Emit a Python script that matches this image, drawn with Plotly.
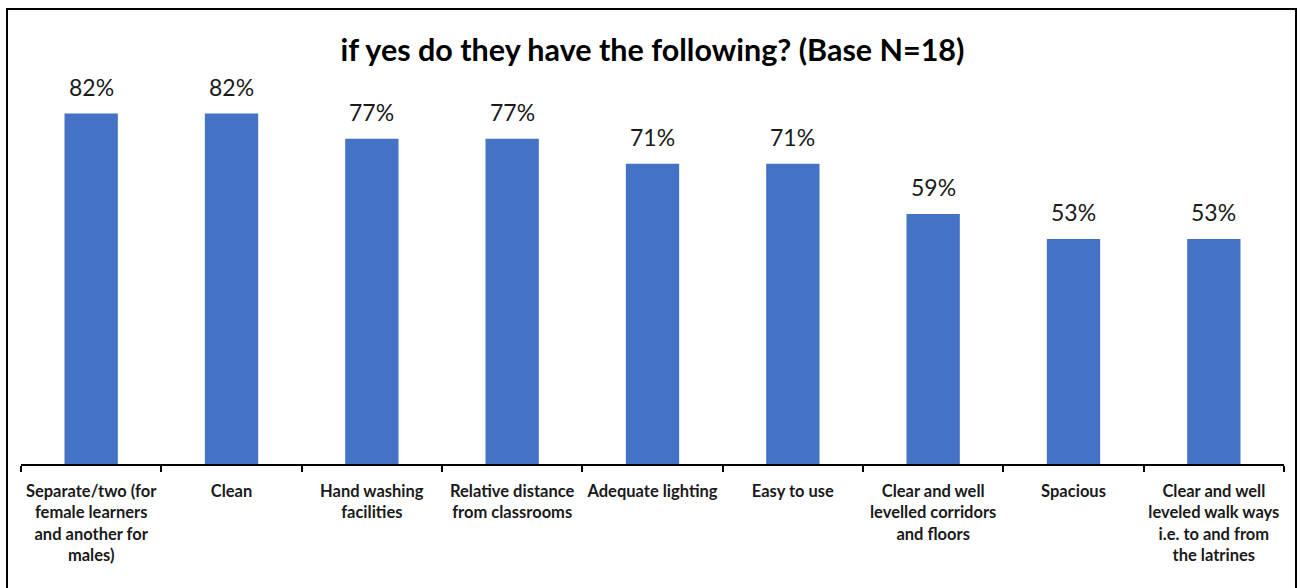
import plotly.graph_objects as go

categories = [
    "Separate/two (for<br>female learners<br>and another for<br>males)",
    "Clean",
    "Hand washing<br>facilities",
    "Relative distance<br>from classrooms",
    "Adequate lighting",
    "Easy to use",
    "Clear and well<br>levelled corridors<br>and floors",
    "Spacious",
    "Clear and well<br>leveled walk ways<br>i.e. to and from<br>the latrines",
]
values = [0.824, 0.824, 0.765, 0.765, 0.706, 0.706, 0.588, 0.529, 0.529]
labels = ["82%", "82%", "77%", "77%", "71%", "71%", "59%", "53%", "53%"]

W, H = 1300, 588
ml, mr, mt, mb = 21, 16, 80, 124
pw = W - ml - mr
ph = H - mt - mb

fig = go.Figure()
fig.add_trace(go.Bar(
    x=categories, y=values,
    marker=dict(color="#4472C4", line=dict(width=0)),
    width=0.38,
    hoverinfo="skip",
))

for c, v, t in zip(categories, values, labels):
    fig.add_annotation(x=c, y=v, text=t, showarrow=False, yanchor="bottom",
                       yshift=11, font=dict(family="Lato", size=23, color="#1a1a1a"))

def px_x(p):
    return (p - ml) / pw

def px_y(p):
    return (H - mb - p) / ph

fig.add_shape(type="rect", xref="paper", yref="paper",
              x0=px_x(7), x1=px_x(1296), y0=px_y(620), y1=px_y(9),
              line=dict(color="black", width=2), fillcolor="rgba(0,0,0,0)", layer="above")

fig.update_layout(
    width=W, height=H,
    margin=dict(l=ml, r=mr, t=mt, b=mb, autoexpand=False),
    paper_bgcolor="white", plot_bgcolor="white",
    showlegend=False,
    title=dict(text="<b>if yes do they have the following? (Base N=18)</b>",
               x=0.5, xanchor="center", xref="paper", y=1 - 50 / H, yanchor="middle",
               font=dict(family="Lato", size=30.5, color="black")),
    xaxis=dict(
        type="category",
        showline=True, linecolor="black", linewidth=2,
        ticks="outside", tickson="boundaries", ticklen=6, tickwidth=2, tickcolor="black",
        tickfont=dict(family="Lato", size=16.5, color="#1a1a1a", weight="bold"),
        ticklabelstandoff=11,
        tickangle=0, showgrid=False, zeroline=False,
    ),
    yaxis=dict(range=[0, 0.903], visible=False, showgrid=False, zeroline=False),
)

fig.write_html("out.html")
